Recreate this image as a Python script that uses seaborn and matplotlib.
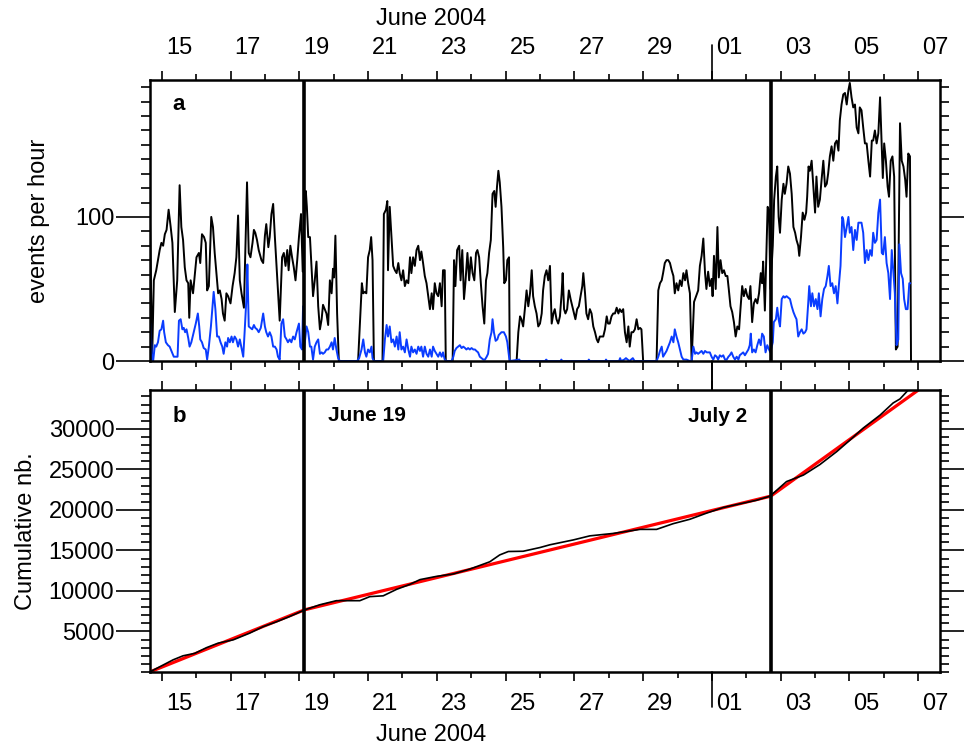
import numpy as np
import pandas as pd
import matplotlib
matplotlib.use('Agg')
import matplotlib.pyplot as plt
import matplotlib.dates as mdates
import matplotlib.ticker as mticker
from matplotlib.transforms import blended_transform_factory
import seaborn as sns

# time is given in days after 2004-06-14 00:00 (UT)
black_day = [0.65, 0.72, 0.77, 0.84, 0.94, 0.99, 1.04, 1.09, 1.14, 1.20, 1.26, 1.31, 1.38, 1.45, 1.52, 1.57,
             1.62, 1.67, 1.72, 1.77, 1.80, 1.84, 1.91, 2.01, 2.08, 2.12, 2.17, 2.23, 2.28, 2.32, 2.37, 2.44,
             2.49, 2.54, 2.59, 2.64, 2.69, 2.74, 2.78, 2.83, 2.88, 2.93, 3.00, 3.06, 3.12, 3.17, 3.22, 3.27,
             3.32, 3.39, 3.42, 3.48, 3.53, 3.58, 3.64, 3.68, 3.72, 3.77, 3.82, 3.90, 3.95, 4.00, 4.04, 4.10,
             4.14, 4.19, 4.24, 4.29, 4.34, 4.38, 4.43, 4.50, 4.55, 4.60, 4.65, 4.69, 4.74, 4.79, 4.84, 4.89,
             4.94, 4.99, 5.05, 5.10, 5.13, 5.19, 5.22, 5.26, 5.31, 5.35, 5.40, 5.45, 5.50, 5.55, 5.60, 5.65,
             5.69, 5.74, 5.79, 5.84, 5.89, 5.94, 5.98, 6.01, 6.05, 6.10, 6.15, 6.71, 6.76, 6.82, 6.86, 6.91,
             6.95, 7.00, 7.05, 7.09, 7.13, 7.17, 7.42, 7.46, 7.52, 7.56, 7.58, 7.63, 7.68, 7.73, 7.78, 7.83,
             7.88, 7.92, 7.97, 8.02, 8.07, 8.12, 8.17, 8.22, 8.26, 8.31, 8.36, 8.41, 8.46, 8.51, 8.55, 8.60,
             8.65, 8.70, 8.75, 8.80, 8.85, 8.89, 8.94, 8.99, 9.04, 9.09, 9.14, 9.18, 9.23, 9.26, 9.46, 9.50,
             9.54, 9.59, 9.65, 9.69, 9.74, 9.79, 9.83, 9.89, 9.94, 9.99, 10.04, 10.09, 10.14, 10.18, 10.23,
             10.28, 10.33, 10.38, 10.43, 10.47, 10.52, 10.57, 10.62, 10.67, 10.71, 10.75, 10.79, 10.83, 10.88,
             10.93, 10.96, 11.01, 11.05, 11.10, 11.12, 11.32, 11.37, 11.42, 11.46, 11.51, 11.56, 11.61, 11.66,
             11.71, 11.76, 11.80, 11.85, 11.90, 11.95, 12.00, 12.05, 12.09, 12.14, 12.19, 12.24, 12.29, 12.34,
             12.39, 12.43, 12.48, 12.53, 12.58, 12.63, 12.66, 12.70, 12.74, 12.79, 12.84, 12.89, 12.94, 12.99,
             13.03, 13.08, 13.13, 13.18, 13.23, 13.26, 13.31, 13.35, 13.40, 13.45, 13.50, 13.55, 13.60, 13.65,
             13.69, 13.74, 13.79, 13.84, 13.89, 13.94, 13.98, 14.03, 14.08, 14.13, 14.18, 14.23, 14.28, 14.32,
             14.37, 14.42, 14.47, 14.52, 14.57, 14.61, 14.66, 14.71, 14.76, 14.81, 14.86, 14.91, 14.95, 15.00,
             15.39, 15.44, 15.49, 15.54, 15.58, 15.63, 15.68, 15.73, 15.78, 15.83, 15.88, 15.92, 15.97, 16.02,
             16.07, 16.12, 16.17, 16.22, 16.26, 16.31, 16.36, 16.41, 16.48, 16.54, 16.60, 16.65, 16.70, 16.75,
             16.80, 16.84, 16.89, 16.94, 16.99, 17.02, 17.06, 17.11, 17.16, 17.20, 17.25, 17.30, 17.35, 17.40,
             17.45, 17.49, 17.54, 17.59, 17.64, 17.69, 17.74, 17.79, 17.83, 17.88, 17.93, 17.98, 18.03, 18.08,
             18.12, 18.17, 18.22, 18.27, 18.32, 18.37, 18.42, 18.46, 18.49, 18.54, 18.59, 18.62, 18.66, 18.70,
             18.77, 18.81, 18.86, 18.90, 18.94, 18.98, 19.03, 19.08, 19.12, 19.17, 19.22, 19.27, 19.32, 19.37,
             19.42, 19.46, 19.51, 19.54, 19.59, 19.64, 19.69, 19.74, 19.77, 19.81, 19.85, 19.90, 19.95, 20.00,
             20.04, 20.09, 20.14, 20.19, 20.24, 20.29, 20.34, 20.38, 20.43, 20.48, 20.53, 20.58, 20.63, 20.68,
             20.72, 20.77, 20.82, 20.87, 20.92, 20.97, 21.01, 21.06, 21.11, 21.16, 21.21, 21.26, 21.30, 21.35,
             21.40, 21.45, 21.50, 21.55, 21.60, 21.65, 21.69, 21.74, 21.79, 21.84, 21.89, 21.94, 21.97, 22.01,
             22.06, 22.11, 22.15, 22.20, 22.25, 22.30, 22.35, 22.40, 22.47, 22.52, 22.57, 22.62, 22.66, 22.71,
             22.76, 22.79]
black_rate = [111, 1, 56, 63, 77, 82, 80, 88, 91, 105, 93, 82, 34, 56, 122, 93,
              84, 65, 56, 54, 30, 56, 47, 72, 75, 68, 88, 86, 82, 49, 52, 100,
              93, 75, 61, 47, 49, 43, 33, 28, 47, 45, 40, 52, 61, 72, 101, 56,
              47, 37, 66, 124, 75, 72, 82, 91, 89, 84, 77, 70, 68, 87, 95, 79,
              86, 102, 109, 86, 65, 47, 28, 72, 75, 66, 77, 63, 80, 72, 65, 56,
              70, 86, 102, 62, 89, 118, 107, 86, 86, 68, 45, 56, 69, 38, 22, 29,
              39, 36, 33, 25, 56, 47, 64, 58, 87, 33, 0, 0, 24, 54, 47, 48,
              47, 72, 77, 86, 70, 0, 0, 102, 105, 111, 63, 107, 86, 66, 63, 61,
              68, 61, 56, 63, 52, 56, 54, 72, 61, 72, 66, 77, 80, 70, 76, 68,
              59, 54, 45, 36, 47, 36, 54, 47, 45, 54, 38, 63, 63, 0, 0, 70,
              52, 77, 80, 56, 77, 43, 54, 75, 56, 72, 61, 56, 75, 77, 72,
              54, 38, 26, 56, 61, 75, 84, 116, 118, 107, 121, 132, 124, 107,
              79, 54, 56, 70, 72, 0, 0, 20, 31, 29, 24, 36, 49, 38,
              47, 63, 45, 38, 33, 24, 26, 33, 49, 59, 63, 56, 66, 26,
              33, 36, 29, 26, 31, 47, 61, 36, 33, 36, 49, 43, 38, 33,
              29, 36, 38, 45, 52, 61, 47, 33, 29, 36, 33, 24, 20, 15,
              13, 17, 17, 17, 22, 31, 26, 26, 31, 33, 33, 37, 33, 36,
              34, 36, 20, 13, 24, 10, 20, 20, 22, 29, 22, 23, 22, 0,
              0, 49, 54, 56, 61, 68, 70, 70, 68, 63, 59, 47, 54, 49,
              56, 52, 61, 56, 63, 54, 47, 0, 41, 45, 49, 66, 73, 85,
              61, 50, 62, 52, 57, 45, 73, 50, 93, 58, 70, 61, 63, 59,
              59, 50, 38, 34, 27, 17, 24, 22, 36, 52, 45, 50, 45, 43,
              52, 27, 40, 43, 40, 47, 61, 54, 69, 35, 80, 107, 105, 50,
              80, 112, 128, 135, 100, 89, 112, 123, 116, 123, 135, 130, 116, 93,
              89, 84, 80, 73, 86, 103, 98, 103, 114, 135, 132, 139, 121, 103,
              128, 107, 112, 126, 139, 121, 123, 130, 142, 149, 139, 151, 153, 146,
              167, 178, 185, 186, 178, 188, 193, 183, 176, 178, 162, 158, 176, 174,
              162, 151, 151, 139, 128, 153, 153, 160, 151, 158, 183, 149, 127, 151,
              139, 121, 114, 139, 142, 128, 8, 10, 165, 139, 135, 126, 114, 144,
              142, 0]

blue_day = [0.65, 0.67, 0.72, 0.75, 0.80, 0.84, 0.89, 0.94, 0.99, 1.04, 1.07, 1.12, 1.18, 1.23, 1.28, 1.35,
            1.41, 1.46, 1.50, 1.55, 1.60, 1.64, 1.68, 1.72, 1.77, 1.81, 1.86, 1.93, 1.99, 2.05, 2.09, 2.12,
            2.17, 2.22, 2.28, 2.32, 2.37, 2.43, 2.46, 2.51, 2.56, 2.61, 2.66, 2.71, 2.76, 2.80, 2.85, 2.90,
            2.93, 2.98, 3.03, 3.07, 3.12, 3.17, 3.22, 3.27, 3.32, 3.37, 3.41, 3.47, 3.49, 3.53, 3.58, 3.63,
            3.68, 3.72, 3.77, 3.82, 3.88, 3.95, 4.00, 4.04, 4.09, 4.14, 4.19, 4.24, 4.29, 4.34, 4.38, 4.43,
            4.48, 4.53, 4.58, 4.63, 4.67, 4.72, 4.77, 4.82, 4.87, 4.92, 4.99, 5.03, 5.08, 5.11, 5.14, 5.21,
            5.26, 5.31, 5.35, 5.40, 5.45, 5.50, 5.55, 5.60, 5.65, 5.69, 5.74, 5.79, 5.84, 5.89, 5.94, 5.98,
            6.03, 6.08, 6.13, 6.18, 6.68, 6.74, 6.81, 6.86, 6.91, 6.95, 7.00, 7.05, 7.10, 7.13, 7.17, 7.44,
            7.49, 7.54, 7.58, 7.63, 7.68, 7.73, 7.78, 7.83, 7.88, 7.92, 7.97, 8.02, 8.07, 8.12, 8.17, 8.22,
            8.26, 8.31, 8.36, 8.41, 8.46, 8.51, 8.55, 8.60, 8.65, 8.70, 8.75, 8.80, 8.85, 8.89, 8.94, 8.99,
            9.04, 9.09, 9.14, 9.18, 9.23, 9.28, 9.43, 9.48, 9.52, 9.57, 9.62, 9.67, 9.72, 9.77, 9.82, 9.86,
            9.91, 9.96, 10.01, 10.06, 10.11, 10.15, 10.20, 10.25, 10.30, 10.35, 10.40, 10.45, 10.49, 10.54,
            10.59, 10.62, 10.66, 10.71, 10.76, 10.80, 10.88, 10.95, 11.01, 11.05, 11.10, 11.12, 11.40, 11.42,
            12.15, 12.18, 12.22, 12.60, 12.62, 12.65, 13.40, 13.42, 13.45, 13.90, 13.92, 13.95, 14.30, 14.33,
            14.36, 14.45, 14.50, 14.55, 14.60, 14.70, 14.75, 15.39, 15.44, 15.49, 15.54, 15.58, 15.63, 15.68,
            15.73, 15.78, 15.83, 15.88, 15.92, 15.97, 16.02, 16.07, 16.12, 16.17, 16.26, 16.36, 16.41, 16.46,
            16.51, 16.55, 16.60, 16.65, 16.70, 16.75, 16.80, 16.85, 16.89, 16.94, 16.99, 17.04, 17.09, 17.14,
            17.18, 17.23, 17.28, 17.33, 17.38, 17.43, 17.48, 17.52, 17.57, 17.62, 17.67, 17.72, 17.77, 17.81,
            17.86, 17.91, 17.96, 18.01, 18.06, 18.10, 18.13, 18.17, 18.22, 18.27, 18.32, 18.37, 18.42, 18.46,
            18.51, 18.56, 18.61, 18.66, 18.70, 18.77, 18.80, 18.86, 18.90, 18.94, 18.98, 19.03, 19.08, 19.12,
            19.17, 19.22, 19.27, 19.32, 19.37, 19.42, 19.46, 19.51, 19.56, 19.61, 19.66, 19.71, 19.75, 19.80,
            19.83, 19.88, 19.92, 19.97, 20.02, 20.07, 20.11, 20.16, 20.21, 20.26, 20.31, 20.36, 20.40, 20.45,
            20.50, 20.55, 20.60, 20.65, 20.69, 20.74, 20.79, 20.82, 20.87, 20.92, 20.97, 21.01, 21.06, 21.11,
            21.16, 21.21, 21.26, 21.30, 21.35, 21.40, 21.45, 21.50, 21.55, 21.60, 21.65, 21.69, 21.74, 21.79,
            21.84, 21.89, 21.94, 21.98, 22.03, 22.08, 22.13, 22.18, 22.23, 22.28, 22.32, 22.37, 22.42, 22.45,
            22.50, 22.55, 22.59, 22.64, 22.69, 22.74, 22.77]
blue_rate = [29, 25, 1, 0, 11, 10, 13, 21, 22, 28, 20, 13, 11, 10, 7, 3,
             3, 3, 28, 29, 22, 23, 20, 22, 16, 10, 13, 20, 26, 33, 24, 15,
             13, 9, 8, 1, 10, 24, 33, 48, 36, 17, 17, 13, 10, 5, 13, 10,
             16, 13, 17, 13, 17, 15, 10, 15, 9, 3, 20, 47, 67, 24, 23, 22,
             25, 23, 22, 20, 23, 33, 24, 20, 17, 20, 17, 10, 10, 8, 3, 1,
             26, 29, 17, 15, 13, 15, 13, 17, 15, 20, 26, 10, 8, 38, 8, 24,
             20, 10, 10, 1, 10, 13, 15, 5, 6, 5, 6, 8, 8, 10, 13, 8,
             16, 8, 2, 0, 0, 2, 8, 15, 6, 3, 8, 6, 10, 2, 0, 0,
             15, 25, 17, 24, 13, 15, 10, 17, 8, 20, 8, 10, 6, 15, 8, 3,
             10, 6, 8, 5, 10, 7, 10, 3, 10, 5, 3, 8, 3, 10, 7, 5,
             3, 6, 3, 6, 1, 0, 0, 3, 7, 9, 10, 11, 9, 10, 9, 8,
             9, 8, 9, 8, 8, 7, 6, 3, 2, 1, 1, 3, 5, 15,
             20, 29, 20, 14, 15, 18, 20, 20, 17, 13, 3, 0, 1, 0,
             0, 1, 0, 0, 1, 0, 0, 1, 0, 0, 1, 0, 0, 2,
             0, 1, 2, 1, 0, 2, 0, 0, 3, 7, 10, 3, 5, 7,
             10, 13, 17, 13, 22, 17, 13, 8, 3, 1, 1, 0, 0, 10,
             5, 6, 5, 6, 7, 5, 7, 6, 6, 6, 3, 1, 4, 3,
             1, 4, 3, 4, 1, 1, 3, 4, 6, 3, 1, 3, 1, 4,
             5, 6, 4, 6, 8, 11, 19, 6, 8, 6, 11, 15, 11, 19,
             17, 6, 11, 8, 6, 13, 27, 29, 37, 29, 24, 43, 45, 44,
             45, 44, 43, 38, 34, 31, 29, 17, 20, 22, 19, 20, 22, 40,
             52, 38, 47, 38, 43, 36, 47, 31, 43, 50, 52, 59, 66, 52,
             54, 47, 52, 40, 52, 66, 100, 98, 86, 93, 100, 89, 93, 77,
             91, 84, 96, 96, 96, 89, 68, 77, 70, 77, 73, 89, 82, 84,
             103, 112, 75, 74, 86, 68, 61, 43, 77, 61, 47, 11, 15, 81,
             61, 57, 43, 36, 36, 54, 54]

cum_day = [0.65, 1.33, 1.62, 1.96, 2.30, 2.64, 3.08, 3.56, 3.95, 4.34, 4.72, 5.16, 5.60, 6.08, 6.76, 7.05,
           7.44, 7.83, 8.21, 8.51, 8.99, 9.48, 9.96, 10.54, 10.83, 11.08, 11.51, 12.00, 12.29, 12.97, 13.45,
           14.13, 14.91, 15.39, 15.87, 16.36, 16.84, 17.33, 17.81, 18.30, 18.69, 19.17, 19.66, 20.14, 20.63,
           21.01, 21.40, 21.89, 22.27, 22.47, 22.71, 22.79]
cum_total = [0, 1500, 2000, 2300, 3000, 3560, 3970, 4800, 5600, 6200, 6850, 7670, 8300, 8800, 8800, 9300,
             9400, 10200, 10800, 11400, 11800, 12100, 12700, 13600, 14450, 14870, 14900, 15360, 15700, 16300, 16800,
             17100, 17600, 17600, 18300, 18850, 19600, 20300, 20750, 21200, 21700, 23500, 24300, 25600, 27200,
             28600, 30100, 31700, 33200, 33700, 34800, 35100]

fit_day = [0.65, 5.15, 18.71, 23.02]
fit_total = [0, 7670, 21700, 34850]

break_days = [5.15, 18.71]
break_labels = ['June 19', 'July 2']

label_days = [1.5, 3.5, 5.5, 7.5, 9.5, 11.5, 13.5, 15.5, 17.5, 19.5, 21.5, 23.5]
label_text = ['15', '17', '19', '21', '23', '25', '27', '29', '01', '03', '05', '07']

start = pd.Timestamp('2004-06-14')


def to_time(days):
    return start + pd.to_timedelta(np.asarray(days, dtype=float), unit='D')


sns.set_theme(style='ticks', rc={'axes.edgecolor': 'black', 'xtick.color': 'black', 'ytick.color': 'black',
                                 'text.color': 'black', 'axes.labelcolor': 'black', 'axes.linewidth': 1.8})
plt.rcParams['font.family'] = ['Liberation Sans', 'DejaVu Sans']

rate_black = pd.DataFrame({'time': to_time(black_day), 'rate': black_rate})
rate_blue = pd.DataFrame({'time': to_time(blue_day), 'rate': blue_rate})
cum = pd.DataFrame({'time': to_time(cum_day), 'total': cum_total})
fit = pd.DataFrame({'time': to_time(fit_day), 'total': fit_total})

fig = plt.figure(figsize=(9.64, 7.45), dpi=100)
ax1 = fig.add_axes([0.1553, 0.5154, 0.8198, 0.3772])
ax2 = fig.add_axes([0.1553, 0.0980, 0.8198, 0.3785])

sns.lineplot(data=rate_black, x='time', y='rate', color='black', lw=1.4, ax=ax1, estimator=None, sort=False)
sns.lineplot(data=rate_blue, x='time', y='rate', color='#0a3cff', lw=1.4, ax=ax1, estimator=None, sort=False)
sns.lineplot(data=fit, x='time', y='total', color='#ff0000', lw=2.3, ax=ax2, estimator=None, sort=False)
sns.lineplot(data=cum, x='time', y='total', color='black', lw=1.2, ax=ax2, estimator=None, sort=False)

xmin, xmax = to_time([0.65, 23.633])
july1 = mdates.date2num(to_time(17.0))
label_pos = mdates.date2num(to_time(label_days))

for ax, where in [(ax1, 'top'), (ax2, 'bottom')]:
    ax.set_xlim(xmin, xmax)
    for d in to_time(break_days):
        ax.axvline(d, color='black', lw=2.6, zorder=5)
    ax.xaxis.set_major_locator(mdates.DayLocator(bymonthday=range(1, 32, 2)))
    ax.xaxis.set_minor_locator(mdates.DayLocator())
    ax.tick_params(axis='x', which='major', direction='out', length=6.5, width=1.2,
                   top=True, bottom=True, labelbottom=False, labeltop=False)
    ax.tick_params(axis='x', which='minor', direction='out', length=4, width=1.2, top=True, bottom=True)
    ax.tick_params(axis='y', which='major', direction='out', length=24.5, width=1.2,
                   left=True, right=True, labelsize=17, pad=1)
    ax.tick_params(axis='y', which='minor', direction='out', length=6.5, width=1.2, left=True, right=True)
    ax.set_xlabel('')
    # day labels sit in the middle of each labelled day
    sec = ax.secondary_xaxis(where)
    sec.xaxis.set_major_locator(mticker.FixedLocator(label_pos))
    sec.xaxis.set_major_formatter(mticker.FixedFormatter(label_text))
    sec.xaxis.set_minor_locator(mticker.NullLocator())
    sec.tick_params(length=0, pad=15, labelsize=17)
    sec.spines[where].set_visible(False)
    # longer tick marking the month change
    tr = blended_transform_factory(ax.transData, ax.transAxes)
    if where == 'top':
        outer, inner = [1, 1.125], [0, -0.1]
    else:
        outer, inner = [0, -0.125], [1, 1.1]
    ax.plot([july1, july1], outer, transform=tr, color='black', lw=1.2, clip_on=False)
    ax.plot([july1, july1], inner, transform=tr, color='black', lw=1.2, clip_on=False)

month_x = mdates.date2num(to_time(8.825))
ax1.text(month_x, 1.217, 'June 2004', transform=blended_transform_factory(ax1.transData, ax1.transAxes),
         ha='center', va='center', fontsize=17)
ax2.text(month_x, -0.223, 'June 2004', transform=blended_transform_factory(ax2.transData, ax2.transAxes),
         ha='center', va='center', fontsize=17)

ax1.set_ylim(0, 195)
ax1.yaxis.set_major_locator(mticker.FixedLocator([0, 100]))
ax1.yaxis.set_minor_locator(mticker.MultipleLocator(10))
ax1.set_ylabel('events per hour', fontsize=17)
ax1.yaxis.set_label_coords(-0.126, 0.5)

ax2.set_ylim(0, 34800)
ax2.yaxis.set_major_locator(mticker.FixedLocator(range(5000, 30001, 5000)))
ax2.yaxis.set_minor_locator(mticker.MultipleLocator(1000))
ax2.set_ylabel('Cumulative nb.', fontsize=17)
ax2.yaxis.set_label_coords(-0.143, 0.5)

ax1.text(0.037, 0.893, 'a', transform=ax1.transAxes, fontsize=16, fontweight='bold', ha='center', va='baseline')
ax2.text(0.037, 0.888, 'b', transform=ax2.transAxes, fontsize=16, fontweight='bold', ha='center', va='baseline')
ax2.text(0.2256, 0.891, break_labels[0], transform=ax2.transAxes, fontsize=15, fontweight='bold', va='baseline')
ax2.text(0.681, 0.888, break_labels[1], transform=ax2.transAxes, fontsize=15, fontweight='bold', va='baseline')

for ax in (ax1, ax2):
    for s in ax.spines.values():
        s.set_linewidth(1.8)

fig.savefig('out.png', dpi=100)
